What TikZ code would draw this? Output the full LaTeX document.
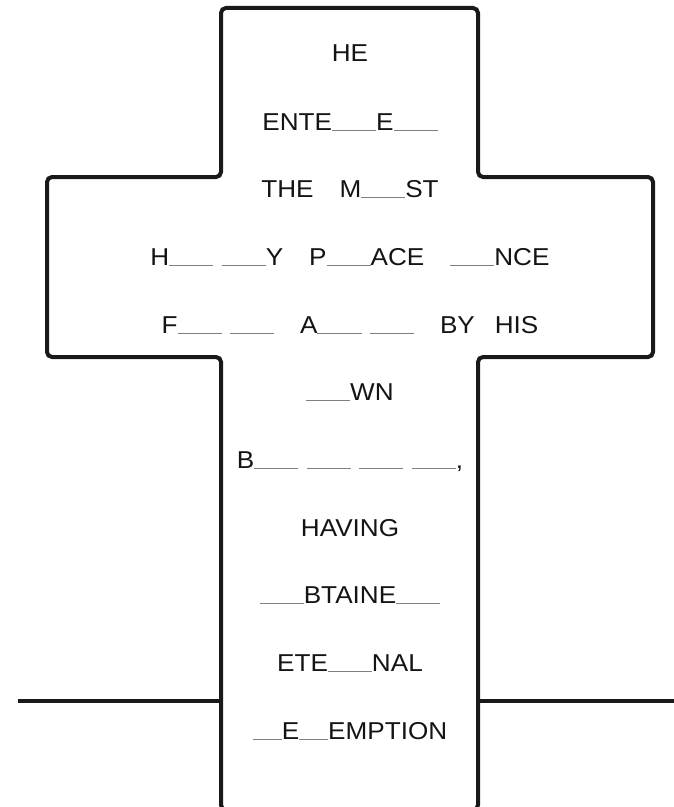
\documentclass[tikz,border=0pt]{standalone}
\usepackage{fontspec}
\newfontfamily\crossfont[FakeStretch=1.07]{Liberation Sans}
\newcommand\xbl{\textcolor{black!50}{\rule[-0.6bp]{44bp}{1bp}}}
\newcommand\xbs{\textcolor{black!50}{\rule[-0.6bp]{29bp}{1bp}}}
\newcommand\xsg{\hspace{8.5bp}}
\newcommand\xwg{\hspace{26bp}}
\begin{document}
\begin{tikzpicture}[x=1bp,y=-1bp,
  outline/.style={line width=4bp, rounded corners=5bp, draw=black!90},
  crossbar/.style={line width=4bp, draw=black!90},
  word/.style={anchor=base, inner sep=0pt, text=black!92,
    font=\crossfont\fontsize{24.5}{29}\selectfont}]
\useasboundingbox (0,0) rectangle (674,807);
\clip (0,0) rectangle (674,807);
% cross outline
\draw[outline] (221,810) -- (221,357) -- (47,357) -- (47,177) -- (221,177)
  -- (221,8) -- (478,8) -- (478,177) -- (653,177) -- (653,357) -- (478,357)
  -- (478,810) -- cycle;
% horizon line
\coordinate (hl0) at (18,701);
\coordinate (hl1) at (221,701);
\coordinate (hr0) at (478,701);
\coordinate (hr1) at (676,701);
\draw[crossbar] (hl0) -- (hl1);
\draw[crossbar] (hr0) -- (hr1);
% text lines
\node[word] (l0) at (350,62) {HE};
\node[word] (l1) at (350,130) {ENTE\xbl E\xbl};
\node[word] (l2) at (350,197) {THE\xwg M\xbl ST};
\node[word] (l3) at (350,265) {H\xbl\xsg\xbl Y\xwg P\xbl ACE\xwg\xbl NCE};
\node[word] (l4) at (350,333) {F\xbl\xsg\xbl\xwg A\xbl\xsg\xbl\xwg BY\hspace{20bp}HIS};
\node[word] (l5) at (350,400) {\xbl WN};
\node[word] (l6) at (350,468) {B\xbl\xsg\xbl\xsg\xbl\xsg\xbl,};
\node[word] (l7) at (350,536) {HAVING};
\node[word] (l8) at (350,603) {\xbl BTAINE\xbl};
\node[word] (l9) at (350,671) {ETE\xbl NAL};
\node[word] (l10) at (350,739) {\xbs E\xbs EMPTION};
\end{tikzpicture}
\end{document}
